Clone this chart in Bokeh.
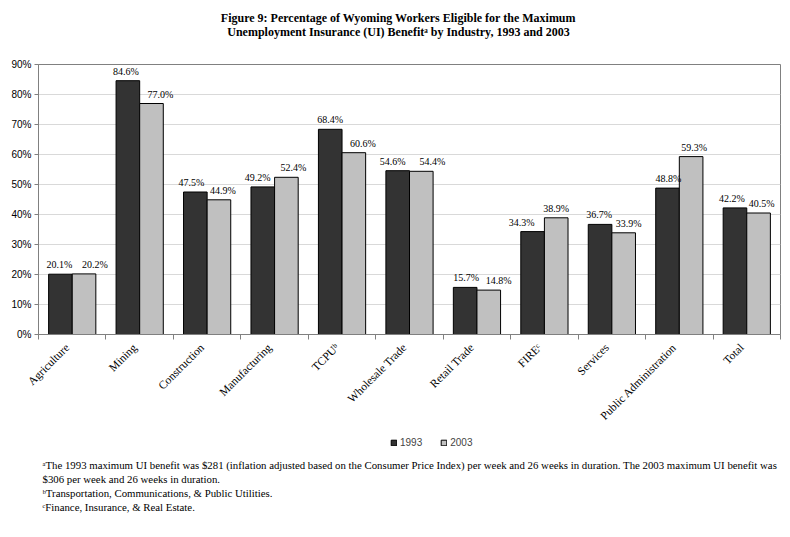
from bokeh.plotting import figure
from bokeh.layouts import column
from bokeh.models import (ColumnDataSource, FixedTicker, Range1d, Legend, LegendItem,
                          NumeralTickFormatter, LabelSet)
from bokeh.core.properties import value
from bokeh.embed import file_html
from bokeh.resources import INLINE
import math

categories = ["Agriculture", "Mining", "Construction", "Manufacturing", "TCPU\u1d47",
              "Wholesale Trade", "Retail Trade", "FIRE\u1d9c", "Services",
              "Public Administration", "Total"]
v1993 = [20.1, 84.6, 47.5, 49.2, 68.4, 54.6, 15.7, 34.3, 36.7, 48.8, 42.2]
v2003 = [20.2, 77.0, 44.9, 52.4, 60.6, 54.4, 14.8, 38.9, 33.9, 59.3, 40.5]
series_names = ["1993", "2003"]
series_colors = ["#333333", "#C0C0C0"]
y_ticks = [0, 10, 20, 30, 40, 50, 60, 70, 80, 90]

# horizontal nudges (px) of the value labels, as placed in the original to avoid overlaps
label_dx_1993 = [-1, -2, -4, -5, 0, -5, 1, -11, -1, 1, -3]
label_dx_2003 = [11, 9, 4, 7, 9, 11, 10, 0, 5, 3, 3]

title_lines = ["Figure 9: Percentage of Wyoming Workers Eligible for the Maximum",
               "Unemployment Insurance (UI) Benefit\u1d43 by Industry, 1993 and 2003"]
footnotes = ["\u1d43The 1993 maximum UI benefit was $281 (inflation adjusted based on the Consumer Price Index) per week and 26 weeks in duration. The 2003 maximum UI benefit was",
             "$306 per week and 26 weeks in duration.",
             "\u1d47Transportation, Communications, & Public Utilities.",
             "\u1d9cFinance, Insurance, & Real Estate."]

W = 788
LEFT, RIGHT = 38, 780          # frame edges in page pixels
TOP_H = 48
CHART_H = 382                  # chart spans page y 48..430
FOOT_H = 100                   # footnote panel spans page y 430..530


def text_panel(height):
    f = figure(width=W, height=height, output_backend="svg", toolbar_location=None,
               x_range=Range1d(LEFT, RIGHT), y_range=Range1d(height, 0),
               min_border_left=LEFT, min_border_right=W - RIGHT,
               min_border_top=0, min_border_bottom=0)
    f.axis.visible = False
    f.grid.visible = False
    f.outline_line_color = None
    f.background_fill_color = "white"
    f.border_fill_color = "white"
    return f


# ---- title panel
top = text_panel(TOP_H)
top.text(x=[398, 398], y=[17, 31], text=title_lines, text_align="center",
         text_baseline="middle", text_font=value("Liberation Serif"), text_font_style="bold",
         text_font_size="12px", text_color="black")

# ---- chart
n = len(categories)
idx = list(range(n))
bw = 0.35
src = ColumnDataSource(dict(
    x1=[i - bw / 2 for i in idx], x2=[i + bw / 2 for i in idx],
    y1=[v / 100 for v in v1993], y2=[v / 100 for v in v2003],
    t1=["%.1f%%" % v for v in v1993], t2=["%.1f%%" % v for v in v2003],
    dx1=label_dx_1993, dx2=label_dx_2003,
))

p = figure(width=W, height=CHART_H, output_backend="svg", toolbar_location=None,
           x_range=Range1d(-0.5, n - 0.5), y_range=Range1d(0, 0.9),
           min_border_left=LEFT, min_border_right=W - RIGHT, min_border_top=64 - TOP_H,
           min_border_bottom=TOP_H + CHART_H - 334)
p.background_fill_color = "white"
p.border_fill_color = "white"
p.outline_line_color = "#808080"
p.outline_line_width = 1

r1 = p.vbar(x="x1", top="y1", width=bw, source=src, fill_color=series_colors[0], line_color="black", line_width=1)
r2 = p.vbar(x="x2", top="y2", width=bw, source=src, fill_color=series_colors[1], line_color="black", line_width=1)

lab_font = "Liberation Sans"
for xc, yc, tc, dc in (("x1", "y1", "t1", "dx1"), ("x2", "y2", "t2", "dx2")):
    p.add_layout(LabelSet(x=xc, y=yc, text=tc, source=src, x_offset=dc, y_offset=4,
                          text_align="center", text_baseline="bottom", text_font=lab_font,
                          text_font_size="10px", text_color="black"))

p.yaxis.ticker = FixedTicker(ticks=[t / 100 for t in y_ticks])
p.yaxis.formatter = NumeralTickFormatter(format="0%")
p.yaxis.major_label_text_font = lab_font
p.yaxis.major_label_text_font_size = "10px"
p.yaxis.major_label_text_color = "black"
p.yaxis.major_tick_out = 4
p.yaxis.major_tick_in = 0
p.yaxis.minor_tick_out = 0
p.yaxis.minor_tick_in = 0
p.yaxis.axis_line_color = "#808080"
p.yaxis.major_tick_line_color = "#808080"
p.yaxis.major_label_standoff = 3

# category labels anchored slightly left of each category centre (as in the original)
label_pos = [round(i - 0.075, 3) for i in idx]
p.xaxis.ticker = FixedTicker(ticks=label_pos, minor_ticks=[i - 0.5 for i in range(n + 1)])
p.xaxis.major_label_overrides = {pos: c for pos, c in zip(label_pos, categories)}
p.xaxis.major_label_orientation = math.pi / 4
p.xaxis.major_label_text_font = "Liberation Serif"
p.xaxis.major_label_text_font_size = "11.5px"
p.xaxis.major_label_text_color = "black"
p.xaxis.major_tick_out = 0
p.xaxis.major_tick_in = 0
p.xaxis.minor_tick_out = 5
p.xaxis.minor_tick_in = 0
p.xaxis.minor_tick_line_color = "#808080"
p.xaxis.axis_line_color = "#808080"
p.xaxis.major_label_standoff = 6

p.xgrid.grid_line_color = None
p.ygrid.ticker = FixedTicker(ticks=[t / 100 for t in y_ticks])
p.ygrid.grid_line_color = "#d9d9d9"

# ---- footnotes + legend panel
foot = text_panel(FOOT_H)
nan = float("nan")
k1 = foot.rect(x=[nan], y=[nan], width=1, height=1,
               fill_color=series_colors[0], line_color="black")
k2 = foot.rect(x=[nan], y=[nan], width=1, height=1,
               fill_color=series_colors[1], line_color="black")
legend = Legend(items=[LegendItem(label=series_names[0], renderers=[k1]),
                       LegendItem(label=series_names[1], renderers=[k2])],
                orientation="horizontal", location=(352, 82), border_line_color=None,
                background_fill_alpha=0, padding=0, margin=0, spacing=18,
                glyph_width=7, glyph_height=7, label_standoff=3, label_height=10,
                label_text_font=lab_font, label_text_font_size="10px")
foot.add_layout(legend, "center")

foot.text(x=[42] * len(footnotes), y=[34, 48, 62, 76], text=footnotes, text_align="left",
          text_baseline="middle", text_font=value("Liberation Serif"),
          text_font_size="10.8px", text_color="black")

layout = column(top, p, foot, spacing=0)
open("out.html", "w").write(file_html(layout, INLINE))
